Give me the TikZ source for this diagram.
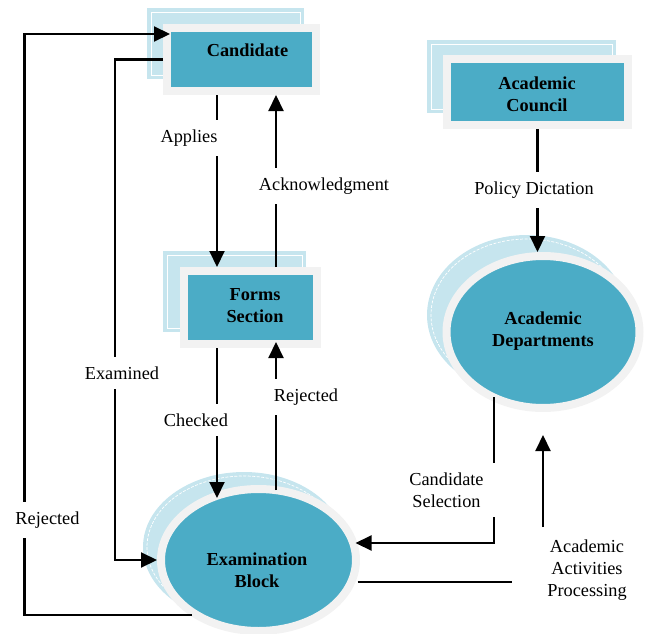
\documentclass[tikz,border=0pt]{standalone}
\usepackage{fontspec}
\setmainfont{Liberation Serif}
\usetikzlibrary{arrows.meta,shapes.geometric,calc}
\definecolor{tealc}{HTML}{4BACC6}
\definecolor{lightb}{HTML}{C6E5EE}
\definecolor{greyf}{HTML}{F2F2F2}
\begin{document}
\begin{tikzpicture}[x=1pt,y=-1pt,
 boxnode/.style={rectangle, fill=tealc, draw=greyf, line width=8pt, inner sep=0pt},
 ellnode/.style={ellipse, fill=tealc, draw=greyf, line width=8pt, inner sep=0pt},
 title/.style={font=\fontsize{18.3}{22}\selectfont\bfseries, align=center, inner sep=0pt, text=black},
 lbl/.style={font=\fontsize{18.3}{22}\selectfont, align=center, fill=white, inner xsep=4pt, inner ysep=10pt},
 arr/.style={line width=2.1pt, -{Triangle[length=16pt,width=15pt]}},
 conn/.style={line width=2.1pt},
 backwhite/.style={draw=white, line width=0.7pt},
 backwhited/.style={draw=white, line width=0.7pt, dash pattern=on 3pt off 1.5pt}
]
\useasboundingbox (0,0) rectangle (648,634);
% back shapes
\fill[lightb] (147,8) rectangle (304,79);
\draw[backwhite] (151,12) rectangle (300,75);
\fill[lightb] (163,251) rectangle (306,332);
\draw[backwhite] (167,255) rectangle (302,328);
\fill[lightb] (427,40) rectangle (616,113);
\draw[backwhite] (431,44) rectangle (612,109);
\fill[lightb] (244,547) ellipse [x radius=101pt, y radius=75pt];
\draw[backwhited] (244,547) ellipse [x radius=97pt, y radius=71pt];
\fill[lightb] (527,315) ellipse [x radius=100pt, y radius=80pt];
\draw[backwhited] (527,315) ellipse [x radius=96pt, y radius=76pt];
% front shapes
\node[boxnode, minimum width=149pt, minimum height=63pt] (cand) at (241.5,59.5) {};
\node[boxnode, minimum width=133pt, minimum height=73pt] (forms) at (250.5,307.5) {};
\node[boxnode, minimum width=181pt, minimum height=66pt] (council) at (537.5,92) {};
\node[ellnode, minimum width=195pt, minimum height=142pt] (exam) at (258.5,560) {};
\node[ellnode, minimum width=193pt, minimum height=152pt] (dept) at (543,332) {};
% titles
\node[title] (candT) at (247.5,50) {Candidate};
\node[title] (formsT) at (255,306) {Forms\\Section};
\node[title] (councilT) at (537,94.5) {Academic\\Council};
\node[title] (examT) at (257,570) {Examination\\Block};
\node[title] (deptT) at (543,331) {Academic\\Departments};
% connectors
\draw[arr] ([xshift=-24.5pt]cand.south) -- ([xshift=-33.5pt]forms.north);
\draw[arr] ([xshift=25.5pt]forms.north) -- ([xshift=34.5pt]cand.south);
\draw[arr] ([xshift=-33.5pt]forms.south) -- ($(exam.center)+(-41.5,-62)$);
\draw[arr] ($(exam.center)+(17.5,-70)$) -- ($(forms.south)+(25.5,-6)$);
\draw[arr] (cand.west) -- ++(-48,0) |- (exam.west);
\draw[arr] ($(exam.center)+(-66.5,55)$) -- ++(-167.5,0) |- ($(cand.west)+(7,-25.5)$);
\draw[arr] (council.south) -- (council.south |- dept.north);
\draw[arr] ($(dept.center)+(-49,65)$) |- ($(exam.center)+(97,-17)$);
\coordinate (aapA) at (512,582);
\coordinate (aapB) at (543,527);
\coordinate (aapC) at (543,435);
\draw[conn] ($(exam.center)+(99,22)$) -- (aapA);
\draw[arr] (aapB) -- (aapC);
% labels
\node[lbl] (lApplies) at (189,138) {Applies};
\node[lbl] (lAck) at (324,186) {Acknowledgment};
\node[lbl] (lChecked) at (196,420) {Checked};
\node[lbl] (lRejM) at (306,397) {Rejected};
\node[lbl] (lExam) at (122,373) {Examined};
\node[lbl] (lRejO) at (47.5,520) {Rejected};
\node[lbl] (lPolicy) at (534,190) {Policy Dictation};
\node[lbl, inner xsep=12pt] (lSel) at (446.5,490) {Candidate\\Selection};
\node[lbl, fill=none] (lAAP) at (587,570) {Academic\\Activities\\Processing};
\end{tikzpicture}
\end{document}
